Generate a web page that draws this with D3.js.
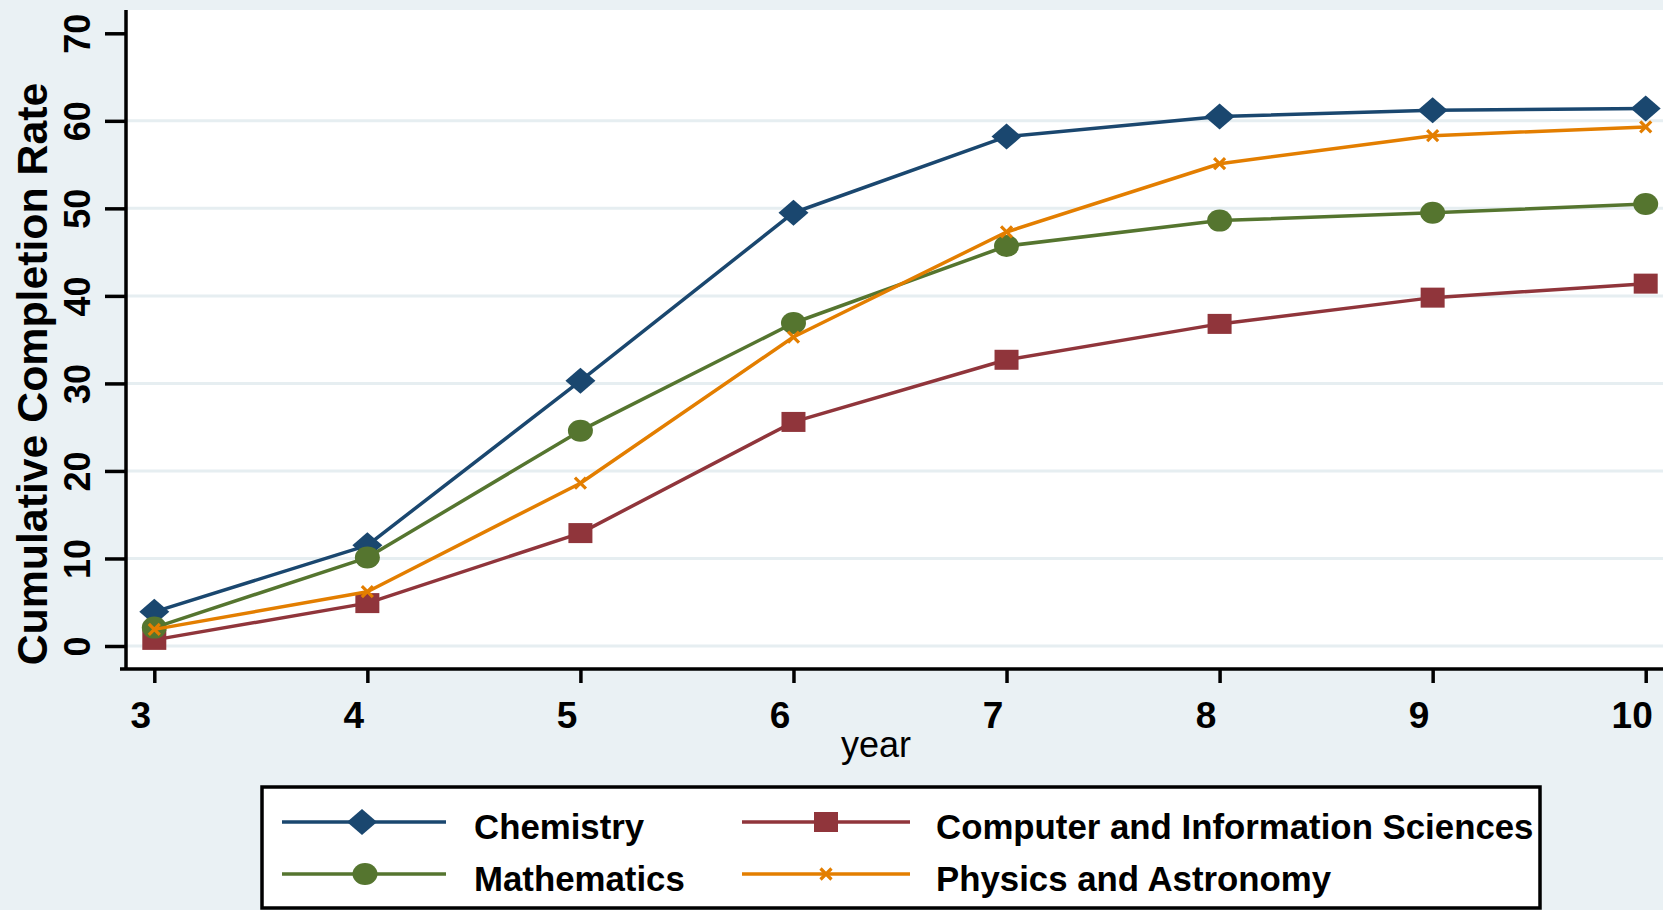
<!DOCTYPE html>
<html>
<head>
<meta charset="utf-8">
<script src="https://cdn.jsdelivr.net/npm/d3@7"></script>
<style>
  html, body { margin: 0; padding: 0; background: #eaf1f4; }
  svg { display: block; }
  text { font-family: "Liberation Sans", Arial, Helvetica, sans-serif; }
</style>
</head>
<body>
<svg id="chart" width="1663" height="910"></svg>
<script>
const years = [3, 4, 5, 6, 7, 8, 9, 10];
const chemistry   = [3.9, 11.5, 30.3, 49.5, 58.2, 60.5, 61.2, 61.4];
const computer    = [0.7, 4.9, 12.9, 25.6, 32.7, 36.8, 39.8, 41.4];
const mathematics = [2.1, 10.1, 24.6, 36.9, 45.7, 48.6, 49.5, 50.5];
const physics     = [1.9, 6.2, 18.6, 35.3, 47.3, 55.1, 58.3, 59.3];
const yTicks = [0, 10, 20, 30, 40, 50, 60, 70];
const xTicks = [3, 4, 5, 6, 7, 8, 9, 10];
const seriesNames = ["Chemistry", "Computer and Information Sciences", "Mathematics", "Physics and Astronomy"];
const seriesColors = ["#1a476f", "#90353b", "#55752f", "#e37e00"];
const seriesSymbols = ["diamond", "square", "circle", "x"];
const seriesValues = [chemistry, computer, mathematics, physics];

const W = 1663, H = 910;
const svg = d3.select("#chart");
const plot = { left: 126, right: 1663, top: 10, bottom: 669 };

const x = d3.scaleLinear().domain([3, 10]).range([154.3, 1645.7]);
const y = d3.scaleLinear().domain([0, 70]).range([646, 33.3]);

svg.append("rect").attr("width", W).attr("height", H).attr("fill", "#eaf1f4");
svg.append("rect").attr("x", plot.left).attr("y", plot.top)
  .attr("width", plot.right - plot.left).attr("height", plot.bottom - plot.top)
  .attr("fill", "#ffffff");

// gridlines
svg.append("g").selectAll("line").data(yTicks.filter(d => d < 70)).join("line")
  .attr("x1", plot.left).attr("x2", plot.right)
  .attr("y1", d => y(d)).attr("y2", d => y(d))
  .attr("stroke", "#e6eef1").attr("stroke-width", 3);

// Y axis
const yAxis = d3.axisLeft(y).tickValues(yTicks).tickSize(21).tickPadding(15).tickFormat(d3.format("d"));
const gy = svg.append("g").attr("transform", `translate(${plot.left},0)`).call(yAxis);
gy.select(".domain").attr("d", `M0,${plot.top}V${plot.bottom}`).attr("stroke", "#000").attr("stroke-width", 3.5);
gy.selectAll(".tick line").attr("stroke", "#000").attr("stroke-width", 3.5);
gy.selectAll(".tick text")
  .attr("x", null).attr("dy", null)
  .attr("transform", "translate(-36,0) rotate(-90)")
  .attr("text-anchor", "middle")
  .attr("fill", "#000")
  .style("font-size", "36px").style("font-weight", "bold");

// X axis
const xAxis = d3.axisBottom(x).tickValues(xTicks).tickSize(14).tickPadding(0).tickFormat(d3.format("d"));
const gx = svg.append("g").attr("transform", `translate(0,${plot.bottom})`).call(xAxis);
gx.select(".domain").attr("d", `M${plot.left - 6},0H${plot.right}`).attr("stroke", "#000").attr("stroke-width", 3.5);
gx.selectAll(".tick line").attr("stroke", "#000").attr("stroke-width", 3.5);
gx.selectAll(".tick text")
  .attr("y", 59).attr("dy", null).attr("x", -14)
  .attr("text-anchor", "middle").attr("fill", "#000")
  .style("font-size", "37px").style("font-weight", "bold");

// axis titles
svg.append("text").attr("transform", "translate(47,374) rotate(-90)")
  .attr("text-anchor", "middle").style("font-size", "42.8px").style("font-weight", "bold")
  .attr("fill", "#000").text("Cumulative Completion Rate");
svg.append("text").attr("x", 876).attr("y", 757).attr("text-anchor", "middle")
  .style("font-size", "36px").attr("fill", "#000").text("year");

// marker drawer
function drawMarker(g, sym, color, cx, cy) {
  if (sym === "diamond") {
    g.append("path").attr("d", `M${cx},${cy - 13}L${cx + 15},${cy}L${cx},${cy + 13}L${cx - 15},${cy}Z`)
      .attr("fill", color);
  } else if (sym === "square") {
    g.append("rect").attr("x", cx - 12).attr("y", cy - 10).attr("width", 24).attr("height", 20).attr("fill", color);
  } else if (sym === "circle") {
    g.append("ellipse").attr("cx", cx).attr("cy", cy).attr("rx", 12.5).attr("ry", 11).attr("fill", color);
  } else {
    g.append("path").attr("d", `M${cx - 5.5},${cy - 5.5}L${cx + 5.5},${cy + 5.5}M${cx - 5.5},${cy + 5.5}L${cx + 5.5},${cy - 5.5}`)
      .attr("stroke", color).attr("stroke-width", 3.2).attr("fill", "none");
  }
}

const line = d3.line().x(d => x(d[0])).y(d => y(d[1]));
const series = svg.append("g");
seriesValues.forEach((vals, i) => {
  const pts = years.map((yr, j) => [yr, vals[j]]);
  const g = series.append("g");
  g.append("path").attr("d", line(pts)).attr("fill", "none")
    .attr("stroke", seriesColors[i]).attr("stroke-width", 3.5).attr("stroke-linejoin", "round");
  pts.forEach(p => drawMarker(g, seriesSymbols[i], seriesColors[i], x(p[0]), y(p[1])));
});

// legend
const leg = svg.append("g");
leg.append("rect").attr("x", 262).attr("y", 787).attr("width", 1278).attr("height", 121)
  .attr("fill", "#fff").attr("stroke", "#000").attr("stroke-width", 3.5);
const legPos = [
  { lx1: 282, lx2: 446, mx: 362, tx: 474, y: 822 },
  { lx1: 742, lx2: 910, mx: 826, tx: 936, y: 822 },
  { lx1: 282, lx2: 446, mx: 365, tx: 474, y: 874 },
  { lx1: 742, lx2: 910, mx: 826, tx: 936, y: 874 }
];
seriesNames.forEach((name, i) => {
  const p = legPos[i];
  const g = leg.append("g");
  g.append("line").attr("x1", p.lx1).attr("x2", p.lx2).attr("y1", p.y).attr("y2", p.y)
    .attr("stroke", seriesColors[i]).attr("stroke-width", 3.5);
  drawMarker(g, seriesSymbols[i], seriesColors[i], p.mx, p.y);
  g.append("text").attr("x", p.tx).attr("y", p.y + 17).style("font-size", "34.8px").style("font-weight", "bold")
    .attr("fill", "#000").text(name);
});
</script>
</body>
</html>
